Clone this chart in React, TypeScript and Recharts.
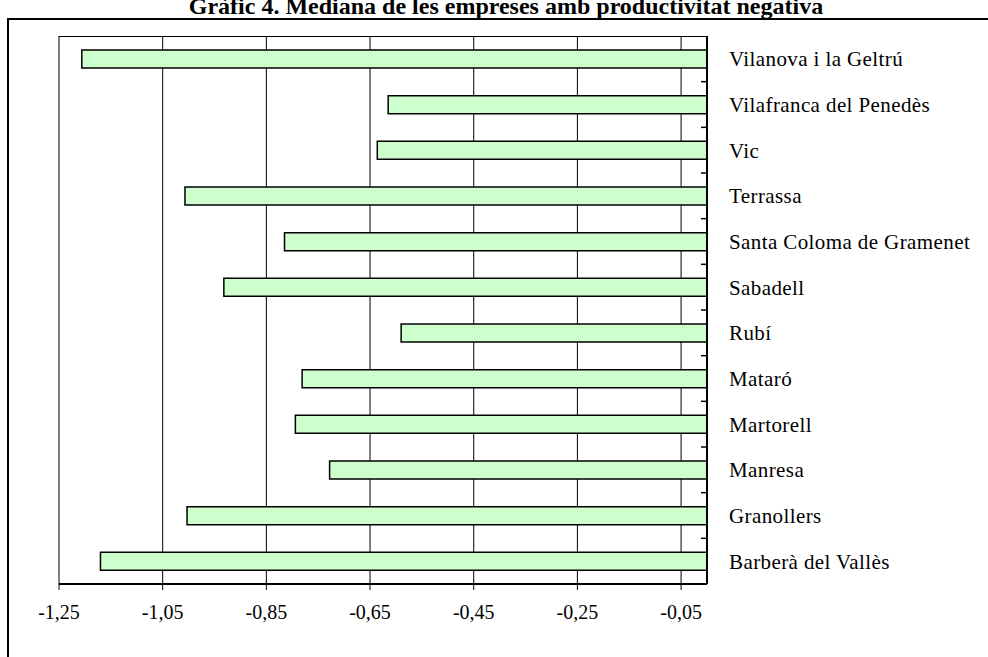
import React from 'react';
import { BarChart, Bar, XAxis, YAxis, CartesianGrid, ReferenceLine } from 'recharts';

const TITLE = 'Gràfic 4. Mediana de les empreses amb productivitat negativa';

const municipis = [
  'Vilanova i la Geltrú',
  'Vilafranca del Penedès',
  'Vic',
  'Terrassa',
  'Santa Coloma de Gramenet',
  'Sabadell',
  'Rubí',
  'Mataró',
  'Martorell',
  'Manresa',
  'Granollers',
  'Barberà del Vallès',
];

const medianes = [-1.206, -0.615, -0.636, -1.007, -0.815, -0.932, -0.59, -0.781, -0.794, -0.728, -1.003, -1.17];

const xTicks = [-1.25, -1.05, -0.85, -0.65, -0.45, -0.25, -0.05];

const data = municipis.map((nom, i) => ({ nom, valor: medianes[i] }));

const FONT = '"Liberation Serif", "Times New Roman", serif';

const W = 988;
const H = 657;
const MARGIN = { top: 36, right: 0, bottom: 33, left: 59 };
const X_AXIS_H = 40;
// mitja banda de categoria, per posar les marques entre categories
const HALF_BAND = (H - MARGIN.top - MARGIN.bottom - X_AXIS_H) / municipis.length / 2;

const fmt = (v: number) => v.toFixed(2).replace('.', ',');

const CategoryTick = (props: any) => {
  const { x, y, payload, index } = props;
  return (
    <g>
      {index > 0 && (
        <line x1={x} x2={x - 6} y1={y - HALF_BAND} y2={y - HALF_BAND} stroke="#000" strokeWidth={1.5} />
      )}
      <text
        x={x + 22}
        y={y}
        dy="0.355em"
        textAnchor="start"
        fill="#000"
        fontSize={21}
        fontFamily={FONT}
        letterSpacing={0.4}
      >
        {payload.value}
      </text>
    </g>
  );
};

export default function App() {
  return (
    <div
      style={{
        position: 'absolute',
        left: 0,
        top: 0,
        width: W,
        height: H,
        overflow: 'hidden',
        background: '#fff',
        fontFamily: FONT,
      }}
    >
      {/* marc exterior */}
      <div
        style={{
          position: 'absolute',
          left: 7,
          top: 18,
          width: 1100,
          height: 800,
          border: '2px solid #000',
        }}
      />
      <div
        style={{
          position: 'absolute',
          left: 0,
          width: 1012,
          top: -7,
          textAlign: 'center',
          fontWeight: 'bold',
          fontSize: 24,
          lineHeight: '26px',
        }}
      >
        {TITLE}
      </div>
      <div style={{ position: 'absolute', left: 0, top: 0 }}>
        <BarChart
          width={W}
          height={H}
          data={data}
          layout="vertical"
          margin={MARGIN}
          barSize={18}
        >
          <CartesianGrid
            yAxisId="cat"
            horizontal={false}
            vertical={true}
            stroke="#000"
            strokeWidth={1}
          />
          <XAxis
            type="number"
            domain={[-1.25, 0]}
            ticks={xTicks}
            tickFormatter={fmt}
            allowDataOverflow
            height={X_AXIS_H}
            tickSize={6}
            tickMargin={15}
            axisLine={{ stroke: '#000', strokeWidth: 2 }}
            tickLine={{ stroke: '#000' }}
            tick={{ fill: '#000', fontSize: 20, fontFamily: FONT }}
          />
          <YAxis
            yAxisId="cat"
            type="category"
            dataKey="nom"
            orientation="right"
            width={281}
            tickLine={false}
            tickSize={0}
            tickMargin={0}
            axisLine={{ stroke: '#000', strokeWidth: 2 }}
            tick={<CategoryTick />}
            interval={0}
          />
          <ReferenceLine yAxisId="cat" y={municipis[0]} stroke="none" />
          <Bar
            yAxisId="cat"
            dataKey="valor"
            fill="#CCFFCC"
            stroke="#000"
            strokeWidth={1.5}
            isAnimationActive={false}
          />
        </BarChart>
      </div>
      {/* vora superior de l'àrea del gràfic */}
      <div
        style={{
          position: 'absolute',
          left: MARGIN.left,
          top: MARGIN.top,
          width: W - 281 - MARGIN.left,
          height: 0,
          borderTop: '1px solid #000',
        }}
      />
    </div>
  );
}
